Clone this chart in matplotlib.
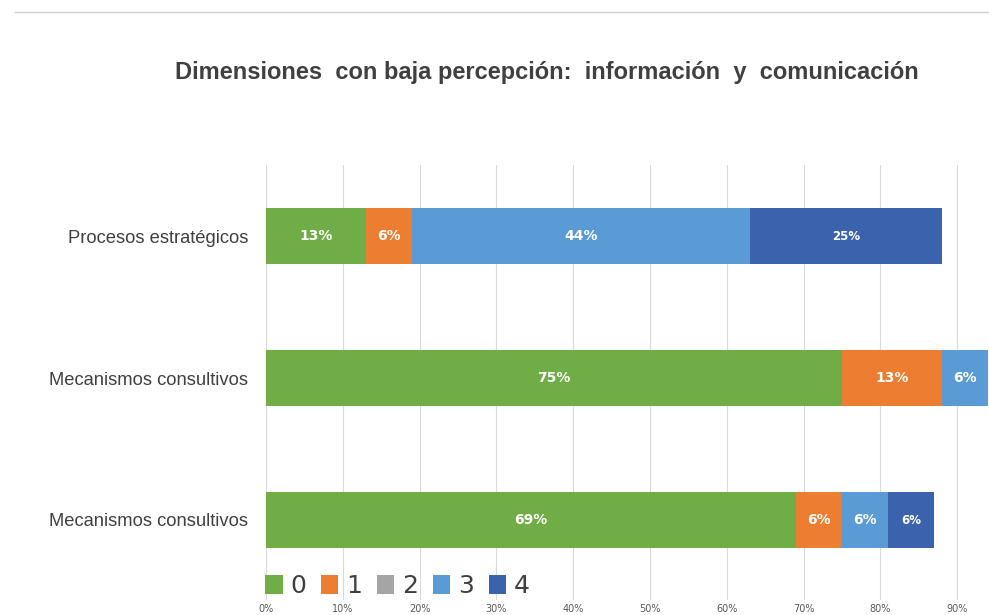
"""
Barras apiladas horizontales: dimensiones con baja percepción
"""

import matplotlib

matplotlib.use("Agg")  # noqa: E402
import matplotlib.pyplot as plt  # noqa: E402
from matplotlib.lines import Line2D  # noqa: E402
import numpy as np  # noqa: E402

# datos
categorias = ["Procesos estratégicos", "Mecanismos consultivos", "Mecanismos consultivos"]
niveles = ["0", "1", "2", "3", "4"]
valores_0 = [13, 75, 69]
valores_1 = [6, 13, 6]
valores_2 = [0, 0, 0]
valores_3 = [44, 6, 6]
valores_4 = [25, 0, 6]
ticks_x = [0, 10, 20, 30, 40, 50, 60, 70, 80, 90]

colores = ["#70AD47", "#ED7D31", "#A5A5A5", "#5B9BD5", "#3A62AD"]
tam_etiqueta = [10, 10, 10, 10, 8.5]

fig = plt.figure(figsize=(9.89, 6.15), dpi=100)
ax = fig.add_axes([266 / 989, 15 / 615, 1 - 266 / 989, (600 - 165) / 615])

series = [valores_0, valores_1, valores_2, valores_3, valores_4]
y = np.arange(len(categorias))
izquierda = np.zeros(len(categorias))
for nivel, vals, color, fs in zip(niveles, series, colores, tam_etiqueta):
    vals = np.array(vals, dtype=float)
    barras = ax.barh(y, vals, left=izquierda, height=0.4, color=color, label=nivel, zorder=3)
    for b, v in zip(barras, vals):
        if v > 0:
            ax.text(b.get_x() + b.get_width() / 2, b.get_y() + b.get_height() / 2, f"{int(v)}%",
                    ha="center", va="center", color="white", fontsize=fs, fontweight="bold", zorder=4)
    izquierda += vals

ax.set_ylim(2 + 80 / 142, -0.5)
ax.set_xlim(0, (989 - 266) / 7.68)
ax.set_yticks(y)
ax.set_yticklabels(categorias, fontsize=13.2, color="#404040", family="Liberation Sans")
ax.set_xticks(ticks_x)
ax.set_xticklabels([f"{t}%" for t in ticks_x], fontsize=7, color="#595959")
ax.tick_params(axis="both", length=0)
ax.tick_params(axis="y", pad=13)
ax.tick_params(axis="x", pad=3)
ax.grid(True, axis="x", color="#D9D9D9", linewidth=0.8, zorder=0)
for s in ax.spines.values():
    s.set_visible(False)

fig.text(547 / 989, 1 - 73 / 615, "Dimensiones  con baja percepción:  información  y  comunicación",
         ha="center", va="center", fontsize=17, fontweight="bold", color="#404040",
         family="Liberation Sans")

fig.add_artist(Line2D([15 / 989, 1], [1 - 12 / 615, 1 - 12 / 615], color="#D0D0D0", linewidth=1))

fig.legend(loc="center left", bbox_to_anchor=(265 / 989, 1 - 586 / 615), ncol=5, frameon=False,
           fontsize=18, handlelength=0.7, handleheight=0.8, handletextpad=0.3, columnspacing=0.6,
           labelcolor="#404040", borderaxespad=0, borderpad=0)

plt.savefig("out.png", dpi=100, facecolor="white")
plt.close(fig)
